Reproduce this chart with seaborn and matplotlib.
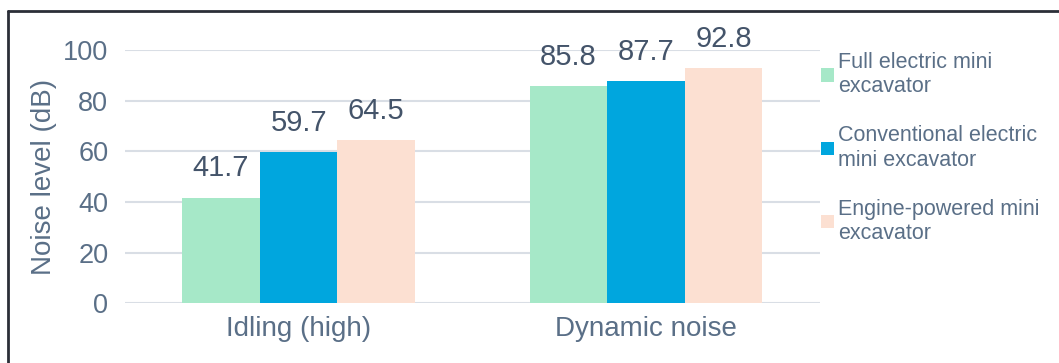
import pandas as pd
import matplotlib
matplotlib.use("Agg")
import matplotlib.pyplot as plt
from matplotlib.lines import Line2D
import seaborn as sns

# ============================================================================
# Data
# ============================================================================
conditions = ["Idling (high)", "Dynamic noise"]
machines = [
    "Full electric mini\nexcavator",
    "Conventional electric\nmini excavator",
    "Engine-powered mini\nexcavator",
]
full_electric = [41.7, 85.8]
conventional_electric = [59.7, 87.7]
engine_powered = [64.5, 92.8]

palette = ["#a6e8c8", "#00a6de", "#fce0d2"]
text_col = "#5a6f87"
label_col = "#44546a"
grid_col = "#d9dee5"

rows = []
for m, vals in zip(machines, [full_electric, conventional_electric, engine_powered]):
    for c, v in zip(conditions, vals):
        rows.append({"Condition": c, "Machine": m, "Noise": v})
df = pd.DataFrame(rows)

# ============================================================================
# Plot
# ============================================================================
sns.set_theme(style="white")
plt.rcParams["font.family"] = ["Liberation Sans", "DejaVu Sans"]

fig = plt.figure(figsize=(10.59, 3.63), dpi=100)
ax = fig.add_axes([0.118, 0.165, 0.656, 0.697])

sns.barplot(data=df, x="Condition", y="Noise", hue="Machine", order=conditions,
            hue_order=machines, palette=palette, width=0.67, saturation=1,
            ax=ax, zorder=3, edgecolor="none")

ax.set_ylim(0, 100)
ax.set_xlim(-0.5, 1.5)
ax.set_yticks(range(0, 101, 20))
ax.yaxis.grid(True, color=grid_col, linewidth=1.5, zorder=0)
ax.set_axisbelow(True)
for s in ax.spines.values():
    s.set_visible(False)
ax.tick_params(axis="y", length=0, colors=text_col, labelsize=19.5, pad=12)
ax.tick_params(axis="x", length=0, colors=text_col, labelsize=20, pad=9)
ax.set_xlabel("")
ax.set_ylabel("Noise level (dB)", color=text_col, fontsize=20, labelpad=4)

for cont in ax.containers:
    ax.bar_label(cont, fmt="%.1f", padding=11, fontsize=21, color=label_col)

handles, labels = ax.get_legend_handles_labels()
ax.legend(handles, labels, loc="upper left", bbox_to_anchor=(0.767, 0.88),
          bbox_transform=fig.transFigure, frameon=False, fontsize=15.5,
          handlelength=0.6, handleheight=0.6, handletextpad=0.2,
          labelspacing=1.3, labelcolor=text_col, borderaxespad=0)

# chart border (top and left edge visible)
fig.add_artist(Line2D([8 / 1059, 1.0], [1 - 11 / 363, 1 - 11 / 363],
                      transform=fig.transFigure, color="#2b2f38", linewidth=2))
fig.add_artist(Line2D([8 / 1059, 8 / 1059], [0.0, 1 - 11 / 363],
                      transform=fig.transFigure, color="#2b2f38", linewidth=2))

fig.savefig("out.png", dpi=100)
